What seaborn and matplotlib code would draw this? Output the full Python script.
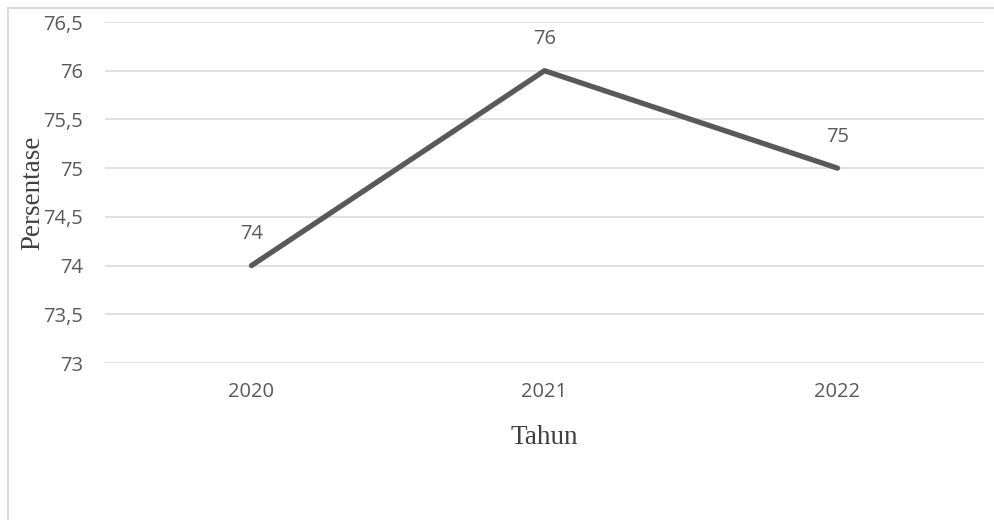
import matplotlib
matplotlib.use("Agg")
import matplotlib.pyplot as plt
import seaborn as sns
import pandas as pd
from matplotlib.lines import Line2D

years = ["2020", "2021", "2022"]
persentase = [74, 76, 75]
y_ticks = [73, 73.5, 74, 74.5, 75, 75.5, 76, 76.5]
y_tick_labels = ["73", "73,5", "74", "74,5", "75", "75,5", "76", "76,5"]

df = pd.DataFrame({"Tahun": years, "Persentase": persentase})

sns.set_theme(style="white")
plt.rcParams["font.family"] = ["Open Sans", "DejaVu Sans"]

text_color = "#595959"
grid_color = "#d9d9d9"
label_size = 14.5

fig = plt.figure(figsize=(9.95, 5.2), dpi=100)
ax = fig.add_axes([105 / 995, 1 - 363 / 520, 879 / 995, 341 / 520])

for yv in y_ticks:
    ax.axhline(yv, color=grid_color, lw=1.1, zorder=0)

sns.lineplot(data=df, x="Tahun", y="Persentase", ax=ax, color="#595959",
             linewidth=3.8, sort=False, zorder=3)

for i, v in enumerate(persentase):
    ax.annotate(f"{v}", (i, v), xytext=(0, 22.5), textcoords="offset points",
                ha="center", va="center", fontsize=label_size, color=text_color)

ax.set_xlim(-0.5, 2.5)
ax.set_ylim(73, 76.5)
ax.set_yticks(y_ticks)
ax.set_yticklabels(y_tick_labels)
ax.tick_params(axis="y", length=0, pad=16, labelsize=label_size, labelcolor=text_color)
ax.tick_params(axis="x", length=0, pad=14, labelsize=label_size, labelcolor=text_color)

for s in ax.spines.values():
    s.set_visible(False)

ax.set_ylabel("Persentase", family=["Liberation Serif"], fontsize=19.5, color="#404040")
ax.yaxis.set_label_coords((45 - 105) / 879, 0.5)
ax.set_xlabel("Tahun", family=["Liberation Serif"], fontsize=19.5, color="#404040")
ax.xaxis.set_label_coords(0.5, (363 - 425) / 341)

# chart frame edges
fig.add_artist(Line2D([8 / 995, 8 / 995], [0, 1 - 8 / 520], transform=fig.transFigure,
                      color=grid_color, lw=1.5))
fig.add_artist(Line2D([8 / 995, 1], [1 - 8 / 520, 1 - 8 / 520], transform=fig.transFigure,
                      color=grid_color, lw=1.5))

fig.savefig("out.png", dpi=100)
